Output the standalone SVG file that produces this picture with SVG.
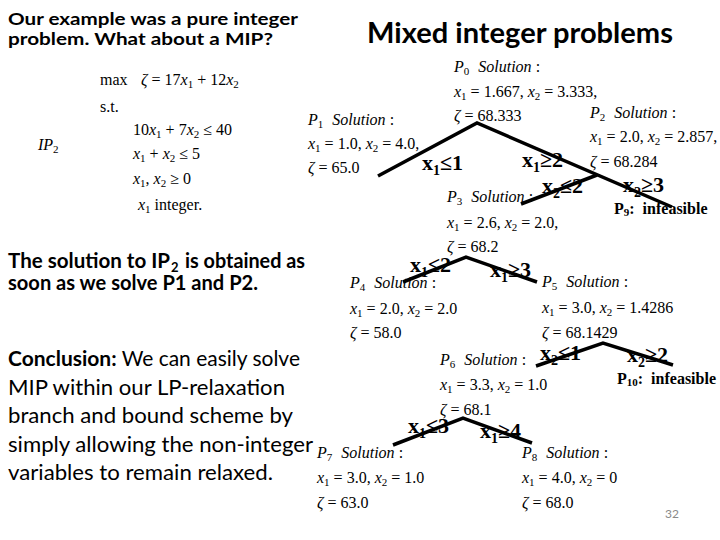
<svg xmlns="http://www.w3.org/2000/svg" width="720" height="540" viewBox="0 0 720 540">
<style>
.h{font-family:Lato,"Open Sans",sans-serif;font-weight:bold;fill:#000}
.t{font-family:Lato,"Open Sans",sans-serif;font-size:21px;fill:#000}
.tb{font-weight:bold}
.sub{font-size:13px}
.m{font-family:"Liberation Serif",serif;font-size:16px;fill:#000}
.i{font-style:italic}
.s{font-size:11px}
.bl{font-family:"Liberation Serif",serif;font-weight:bold;font-size:22px;fill:#000}
.bs{font-size:14px}
.inf{font-family:"Liberation Serif",serif;font-weight:bold;font-size:16px;fill:#000}
.e{stroke:#000;stroke-width:3.5;fill:none}
.pg{font-family:Lato,"Liberation Sans",sans-serif;font-size:12px;fill:#8a8a8a}
</style>
<rect width="720" height="540" fill="#fff"/>

<g id="heading">
<text class="h" x="8" y="25" font-size="17.5" textLength="290" lengthAdjust="spacingAndGlyphs">Our example was a pure integer</text>
<text class="h" x="8" y="45" font-size="17.5" textLength="265" lengthAdjust="spacingAndGlyphs">problem. What about a MIP?</text>
<text class="h" x="367" y="43" font-size="28" textLength="306" lengthAdjust="spacingAndGlyphs">Mixed integer problems</text>
</g>

<g id="model">
<text class="m" x="38" y="150"><tspan class="i">IP</tspan><tspan class="s" dy="3">2</tspan></text>
<text class="m" x="100" y="85">max</text>
<text class="m" x="141" y="85"><tspan class="i">ζ</tspan> = 17<tspan class="i">x</tspan><tspan class="s" dy="3">1</tspan><tspan dy="-3"> + 12</tspan><tspan class="i">x</tspan><tspan class="s" dy="3">2</tspan></text>
<text class="m" x="100" y="112">s.t.</text>
<text class="m" x="133" y="135">10<tspan class="i">x</tspan><tspan class="s" dy="3">1</tspan><tspan dy="-3"> + 7</tspan><tspan class="i">x</tspan><tspan class="s" dy="3">2</tspan><tspan dy="-3"> ≤ 40</tspan></text>
<text class="m" x="133" y="159"><tspan class="i">x</tspan><tspan class="s" dy="3">1</tspan><tspan dy="-3"> + </tspan><tspan class="i">x</tspan><tspan class="s" dy="3">2</tspan><tspan dy="-3"> ≤ 5</tspan></text>
<text class="m" x="133" y="184"><tspan class="i">x</tspan><tspan class="s" dy="3">1</tspan><tspan dy="-3">, </tspan><tspan class="i">x</tspan><tspan class="s" dy="3">2</tspan><tspan dy="-3"> ≥ 0</tspan></text>
<text class="m" x="138" y="210"><tspan class="i">x</tspan><tspan class="s" dy="3">1</tspan><tspan dy="-3"> integer.</tspan></text>
</g>

<g id="notes">
<text class="t tb" x="8" y="268" textLength="162" lengthAdjust="spacingAndGlyphs">The solution to IP</text>
<text class="t tb sub" x="171" y="272">2</text>
<text class="t tb" x="185" y="268" textLength="120" lengthAdjust="spacingAndGlyphs">is obtained as</text>
<text class="t tb" x="8" y="290" textLength="250" lengthAdjust="spacingAndGlyphs">soon as we solve P1 and P2.</text>
<text class="t" x="8" y="366" textLength="292" lengthAdjust="spacingAndGlyphs"><tspan class="tb">Conclusion:</tspan> We can easily solve</text>
<text class="t" x="8" y="395" textLength="277" lengthAdjust="spacingAndGlyphs">MIP within our LP-relaxation</text>
<text class="t" x="8" y="423" textLength="285" lengthAdjust="spacingAndGlyphs">branch and bound scheme by</text>
<text class="t" x="8" y="452" textLength="305" lengthAdjust="spacingAndGlyphs">simply allowing the non-integer</text>
<text class="t" x="8" y="480" textLength="265" lengthAdjust="spacingAndGlyphs">variables to remain relaxed.</text>
</g>

<g id="connectors">
<polyline class="e" points="378,176 477,123 672,207"/>
<line class="e" x1="597" y1="175" x2="521" y2="204"/>
<polyline class="e" points="403,282 466,257 537,282"/>
<polyline class="e" points="536,366 603,343 673,365"/>
<polyline class="e" points="393,445 463,418 532,443"/>
<text class="bl" x="422" y="170">x<tspan class="bs" dy="5">1</tspan><tspan dy="-5">≤1</tspan></text>
<text class="bl" x="522" y="167">x<tspan class="bs" dy="5">1</tspan><tspan dy="-5">≥2</tspan></text>
<text class="bl" x="542" y="193">x<tspan class="bs" dy="5">2</tspan><tspan dy="-5">≤2</tspan></text>
<text class="bl" x="623" y="192">x<tspan class="bs" dy="5">2</tspan><tspan dy="-5">≥3</tspan></text>
<text class="bl" x="410" y="272">x<tspan class="bs" dy="5">1</tspan><tspan dy="-5">≤2</tspan></text>
<text class="bl" x="490" y="277">x<tspan class="bs" dy="5">1</tspan><tspan dy="-5">≥3</tspan></text>
<text class="bl" x="540" y="360">x<tspan class="bs" dy="5">2</tspan><tspan dy="-5">≤1</tspan></text>
<text class="bl" x="627" y="362">x<tspan class="bs" dy="5">2</tspan><tspan dy="-5">≥2</tspan></text>
<text class="bl" x="408" y="433">x<tspan class="bs" dy="5">1</tspan><tspan dy="-5">≤3</tspan></text>
<text class="bl" x="480" y="438">x<tspan class="bs" dy="5">1</tspan><tspan dy="-5">≥4</tspan></text>
</g>

<g id="P0">
<text class="m" x="454" y="72"><tspan class="i">P</tspan><tspan class="s" dy="3">0</tspan><tspan class="i" dx="9" dy="-3">Solution</tspan><tspan> :</tspan></text>
<text class="m" x="454" y="97"><tspan class="i">x</tspan><tspan class="s" dy="3">1</tspan><tspan dy="-3"> = 1.667, </tspan><tspan class="i">x</tspan><tspan class="s" dy="3">2</tspan><tspan dy="-3"> = 3.333,</tspan></text>
<text class="m" x="454" y="121"><tspan class="i">ζ</tspan> = 68.333</text>
</g>

<g id="P1">
<text class="m" x="308" y="125"><tspan class="i">P</tspan><tspan class="s" dy="3">1</tspan><tspan class="i" dx="9" dy="-3">Solution</tspan><tspan> :</tspan></text>
<text class="m" x="308" y="149"><tspan class="i">x</tspan><tspan class="s" dy="3">1</tspan><tspan dy="-3"> = 1.0, </tspan><tspan class="i">x</tspan><tspan class="s" dy="3">2</tspan><tspan dy="-3"> = 4.0,</tspan></text>
<text class="m" x="308" y="173"><tspan class="i">ζ</tspan> = 65.0</text>
</g>

<g id="P2">
<text class="m" x="590" y="118"><tspan class="i">P</tspan><tspan class="s" dy="3">2</tspan><tspan class="i" dx="9" dy="-3">Solution</tspan><tspan> :</tspan></text>
<text class="m" x="590" y="142"><tspan class="i">x</tspan><tspan class="s" dy="3">1</tspan><tspan dy="-3"> = 2.0, </tspan><tspan class="i">x</tspan><tspan class="s" dy="3">2</tspan><tspan dy="-3"> = 2.857,</tspan></text>
<text class="m" x="590" y="167"><tspan class="i">ζ</tspan> = 68.284</text>
</g>

<g id="P3">
<text class="m" x="447" y="202"><tspan class="i">P</tspan><tspan class="s" dy="3">3</tspan><tspan class="i" dx="9" dy="-3">Solution</tspan><tspan> :</tspan></text>
<text class="m" x="447" y="228"><tspan class="i">x</tspan><tspan class="s" dy="3">1</tspan><tspan dy="-3"> = 2.6, </tspan><tspan class="i">x</tspan><tspan class="s" dy="3">2</tspan><tspan dy="-3"> = 2.0,</tspan></text>
<text class="m" x="447" y="252"><tspan class="i">ζ</tspan> = 68.2</text>
</g>

<g id="P4">
<text class="m" x="350" y="288"><tspan class="i">P</tspan><tspan class="s" dy="3">4</tspan><tspan class="i" dx="9" dy="-3">Solution</tspan><tspan> :</tspan></text>
<text class="m" x="350" y="314"><tspan class="i">x</tspan><tspan class="s" dy="3">1</tspan><tspan dy="-3"> = 2.0, </tspan><tspan class="i">x</tspan><tspan class="s" dy="3">2</tspan><tspan dy="-3"> = 2.0</tspan></text>
<text class="m" x="350" y="338"><tspan class="i">ζ</tspan> = 58.0</text>
</g>

<g id="P5">
<text class="m" x="542" y="287"><tspan class="i">P</tspan><tspan class="s" dy="3">5</tspan><tspan class="i" dx="9" dy="-3">Solution</tspan><tspan> :</tspan></text>
<text class="m" x="542" y="313"><tspan class="i">x</tspan><tspan class="s" dy="3">1</tspan><tspan dy="-3"> = 3.0, </tspan><tspan class="i">x</tspan><tspan class="s" dy="3">2</tspan><tspan dy="-3"> = 1.4286</tspan></text>
<text class="m" x="542" y="338"><tspan class="i">ζ</tspan> = 68.1429</text>
</g>

<g id="P6">
<text class="m" x="440" y="365"><tspan class="i">P</tspan><tspan class="s" dy="3">6</tspan><tspan class="i" dx="9" dy="-3">Solution</tspan><tspan> :</tspan></text>
<text class="m" x="440" y="390"><tspan class="i">x</tspan><tspan class="s" dy="3">1</tspan><tspan dy="-3"> = 3.3, </tspan><tspan class="i">x</tspan><tspan class="s" dy="3">2</tspan><tspan dy="-3"> = 1.0</tspan></text>
<text class="m" x="440" y="415"><tspan class="i">ζ</tspan> = 68.1</text>
</g>

<g id="P7">
<text class="m" x="317" y="458"><tspan class="i">P</tspan><tspan class="s" dy="3">7</tspan><tspan class="i" dx="9" dy="-3">Solution</tspan><tspan> :</tspan></text>
<text class="m" x="317" y="483"><tspan class="i">x</tspan><tspan class="s" dy="3">1</tspan><tspan dy="-3"> = 3.0, </tspan><tspan class="i">x</tspan><tspan class="s" dy="3">2</tspan><tspan dy="-3"> = 1.0</tspan></text>
<text class="m" x="317" y="508"><tspan class="i">ζ</tspan> = 63.0</text>
</g>

<g id="P8">
<text class="m" x="522" y="458"><tspan class="i">P</tspan><tspan class="s" dy="3">8</tspan><tspan class="i" dx="9" dy="-3">Solution</tspan><tspan> :</tspan></text>
<text class="m" x="522" y="483"><tspan class="i">x</tspan><tspan class="s" dy="3">1</tspan><tspan dy="-3"> = 4.0, </tspan><tspan class="i">x</tspan><tspan class="s" dy="3">2</tspan><tspan dy="-3"> = 0</tspan></text>
<text class="m" x="522" y="508"><tspan class="i">ζ</tspan> = 68.0</text>
</g>

<g id="P9">
<text class="inf" x="614" y="214">P<tspan font-size="11" dy="2">9</tspan><tspan dy="-2">:</tspan><tspan dx="8">infeasible</tspan></text>
</g>

<g id="P10">
<text class="inf" x="617" y="384">P<tspan font-size="11" dy="2">10</tspan><tspan dy="-2">:</tspan><tspan dx="8">infeasible</tspan></text>
</g>

<text class="pg" x="665" y="518">32</text>
</svg>
